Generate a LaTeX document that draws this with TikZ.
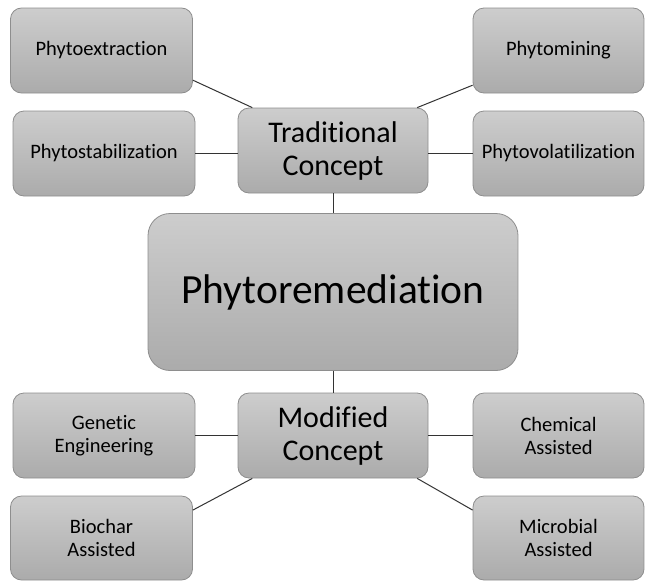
\documentclass[tikz,border=0pt]{standalone}
\usepackage{fontspec}
\setmainfont{Carlito}[RawFeature={-liga;-clig;-calt;-dlig}]
\usetikzlibrary{positioning}

\definecolor{boxtop}{HTML}{CDCDCD}
\definecolor{boxbot}{HTML}{ABABAB}
\definecolor{boxline}{HTML}{8E8E8E}

\begin{document}
\begin{tikzpicture}[
    x=1pt, y=-1pt,
    box/.style={rectangle, rounded corners=11pt, draw=boxline, line width=0.8pt, top color=boxtop, bottom color=boxbot, align=center, inner sep=0pt},
    leaf/.style={box, minimum width=182pt, minimum height=85pt, font=\fontsize{20.5}{23}\selectfont},
    rleaf/.style={leaf, minimum width=171pt},
    concept/.style={box, minimum width=190pt, minimum height=85pt, font=\fontsize{30}{33}\selectfont},
    root/.style={box, minimum width=370pt, minimum height=157pt, rounded corners=22pt, font=\fontsize{41.5}{48}\selectfont},
    link/.style={draw=black!80, line width=1pt},
]
  \useasboundingbox (0,0) rectangle (645,581);

  % centre
  \node[root] (remed) at (333,292) {Phytoremediation};
  \node[concept] (trad) at (333,150.5) {Traditional\\Concept};
  \node[concept] (modif) at (333,435.5) {Modified\\Concept};

  % traditional branches
  \node[leaf] (extr) at (101.5,50.5) {Phytoextraction};
  \node[leaf] (stab) at (104,153.5) {Phytostabilization};
  \node[rleaf] (mining) at (558.5,50.5) {Phytomining};
  \node[rleaf] (volat) at (558.5,153.5) {Phytovolatilization};

  % modified branches
  \node[leaf] (genet) at (104,435.5) {Genetic\\Engineering};
  \node[leaf, minimum height=84pt] (biochar) at (101.5,538) {Biochar\\Assisted};
  \node[rleaf] (chem) at (558.5,435.5) {Chemical\\Assisted};
  \node[rleaf, minimum height=84pt] (microb) at (558.5,538) {Microbial\\Assisted};

  \draw[link] (trad) -- (remed);
  \draw[link] (remed) -- (modif);
  \draw[link] (extr.-18) -- (trad.152);
  \draw[link] (stab.east) -- (stab.east -| trad.west);
  \draw[link] (mining.-158) -- (trad.27);
  \draw[link] (trad.east |- volat.west) -- (volat.west);
  \draw[link] (genet.east) -- (modif.west);
  \draw[link] (modif.east) -- (chem.west);
  \draw[link] (biochar.17) -- (modif.208);
  \draw[link] (microb.162) -- (modif.-27);
\end{tikzpicture}
\end{document}
